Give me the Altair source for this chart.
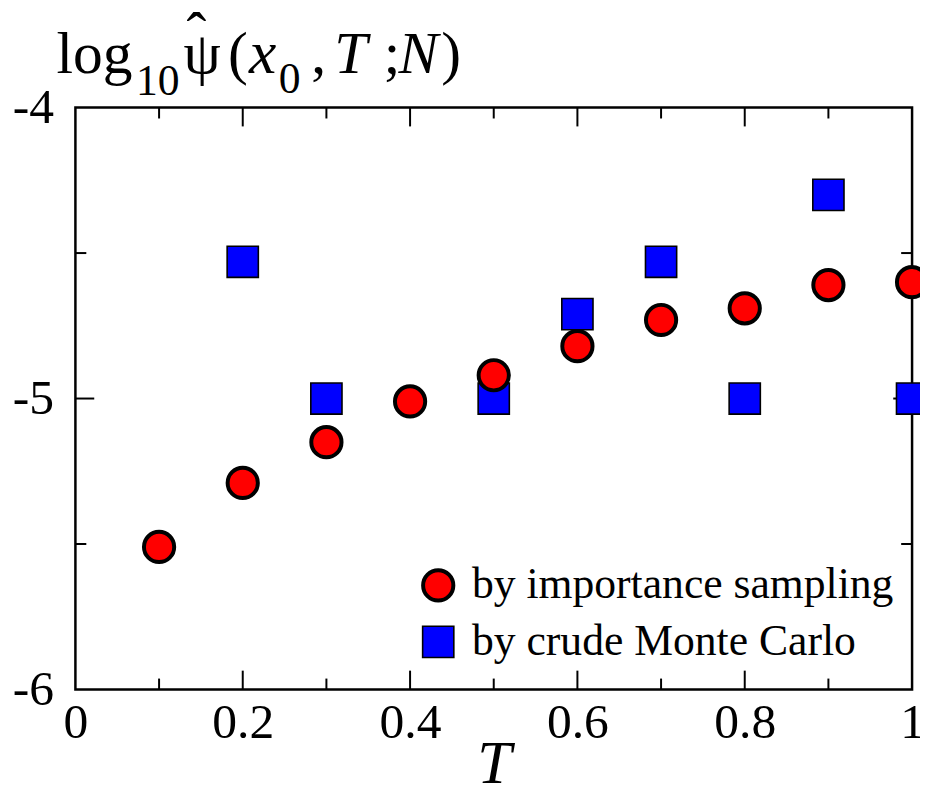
import altair as alt
import pandas as pd

# ---- data ----
T_importance = [0.1, 0.2, 0.3, 0.4, 0.5, 0.6, 0.7, 0.8, 0.9, 1.0]
log_importance = [-5.51, -5.29, -5.15, -5.01, -4.92, -4.82, -4.73, -4.69, -4.61, -4.60]
T_crude = [0.2, 0.3, 0.5, 0.6, 0.7, 0.8, 0.9, 1.0]
log_crude = [-4.53, -5.0, -5.0, -4.71, -4.53, -5.0, -4.30, -5.0]
series_names = ["by importance sampling", "by crude Monte Carlo"]
series_colors = ["#ff0000", "#0000ff"]
series_shapes = ["circle", "square"]

x_tick_labels = [0, 0.2, 0.4, 0.6, 0.8, 1]
y_tick_labels = [-6, -5, -4]
x_major = [0.2, 0.4, 0.6, 0.8]
x_minor = [0.1, 0.3, 0.5, 0.7, 0.9]
y_major = [-5]
y_minor = [-5.5, -4.5]

W, H = 844, 587
FONT = "Liberation Serif"

rows = []
for t, v in zip(T_crude, log_crude):
    rows.append({"T": t, "v": v, "series": series_names[1]})
for t, v in zip(T_importance, log_importance):
    rows.append({"T": t, "v": v, "series": series_names[0]})
df = pd.DataFrame(rows)

xscale = alt.Scale(domain=[0, 1], nice=False, zero=False)
yscale = alt.Scale(domain=[-6, -4], nice=False, zero=False)

points = alt.Chart(df).mark_point(filled=True, stroke="black", opacity=1).encode(
    x=alt.X("T:Q", scale=xscale,
            axis=alt.Axis(values=x_tick_labels, labelExpr="'' + datum.value",
                          ticks=False, domain=False, grid=False,
                          labelFont=FONT, labelFontSize=50, labelColor="black",
                          labelPadding=8, labelFlush=False, labelBound=False,
                          title="T", titleFont=FONT, titleFontSize=62,
                          titleFontStyle="italic", titleFontWeight="normal",
                          titleColor="black", titlePadding=-13)),
    y=alt.Y("v:Q", scale=yscale,
            axis=alt.Axis(values=y_tick_labels, labelExpr="'' + datum.value",
                          ticks=False, domain=False, grid=False,
                          labelFont=FONT, labelFontSize=50, labelColor="black",
                          labelPadding=22, labelFlush=False, labelBound=False,
                          title=None)),
    color=alt.Color("series:N",
                    scale=alt.Scale(domain=series_names, range=series_colors),
                    legend=alt.Legend(title=None, orient="none", legendX=344, legendY=460,
                                      labelFont=FONT, labelFontSize=44, labelColor="black",
                                      labelLimit=0, labelOffset=12, rowPadding=11, padding=0,
                                      symbolStrokeColor="black", symbolOpacity=1)),
    shape=alt.Shape("series:N",
                    scale=alt.Scale(domain=series_names, range=series_shapes)),
    strokeWidth=alt.StrokeWidth("series:N",
                                scale=alt.Scale(domain=series_names, range=[4, 1.6])),
    size=alt.Size("series:N",
                  scale=alt.Scale(domain=series_names, range=[930, 990])),
)

tick_color = "black"


def vticks(values, length, top):
    d = pd.DataFrame({"x": values})
    if top:
        return alt.Chart(d).mark_rule(color=tick_color, strokeWidth=2).encode(
            x=alt.X("x:Q", scale=xscale), y=alt.value(0), y2=alt.value(length))
    return alt.Chart(d).mark_rule(color=tick_color, strokeWidth=2).encode(
        x=alt.X("x:Q", scale=xscale), y=alt.value(H), y2=alt.value(H - length))


def hticks(values, length, right):
    d = pd.DataFrame({"y": values})
    if right:
        return alt.Chart(d).mark_rule(color=tick_color, strokeWidth=2).encode(
            y=alt.Y("y:Q", scale=yscale), x=alt.value(W), x2=alt.value(W - length))
    return alt.Chart(d).mark_rule(color=tick_color, strokeWidth=2).encode(
        y=alt.Y("y:Q", scale=yscale), x=alt.value(0), x2=alt.value(length))


ticks = [
    vticks(x_major, 19, False), vticks(x_minor, 11, False),
    vticks(x_major, 19, True), vticks(x_minor, 11, True),
    hticks(y_major, 19, False), hticks(y_minor, 11, False),
    hticks(y_major, 19, True), hticks(y_minor, 11, True),
]


def txt(s, x, y, size, italic=False):
    return alt.Chart(pd.DataFrame({"a": [0]})).mark_text(
        text=s, font=FONT, fontSize=size, fontStyle="italic" if italic else "normal",
        align="left", baseline="alphabetic", color="black"
    ).encode(x=alt.value(x), y=alt.value(y))


title_parts = [
    txt("log", -19, -35, 60),
    txt("10", 61, -13, 44),
    txt("ψ", 109, -35, 60),
    txt("ˆ", 112, -55, 60),
    txt("(", 154, -35, 60),
    txt("x", 175, -35, 62, True),
    txt("0", 205, -15, 44),
    txt(",", 238, -35, 60),
    txt("T", 261, -35, 60, True),
    txt(";", 311, -35, 60),
    txt("N", 326, -35, 60, True),
    txt(")", 369, -35, 60),
]

chart = alt.layer(*ticks, points, *title_parts).properties(
    width=W, height=H,
    autosize=alt.AutoSizeParams(type="none"),
    padding={"left": 68, "top": 97, "right": 8, "bottom": 104},
).configure(background="white").configure_view(stroke="black", strokeWidth=2.5)

chart.save("out.html", embed_options={"renderer": "svg", "actions": False})
